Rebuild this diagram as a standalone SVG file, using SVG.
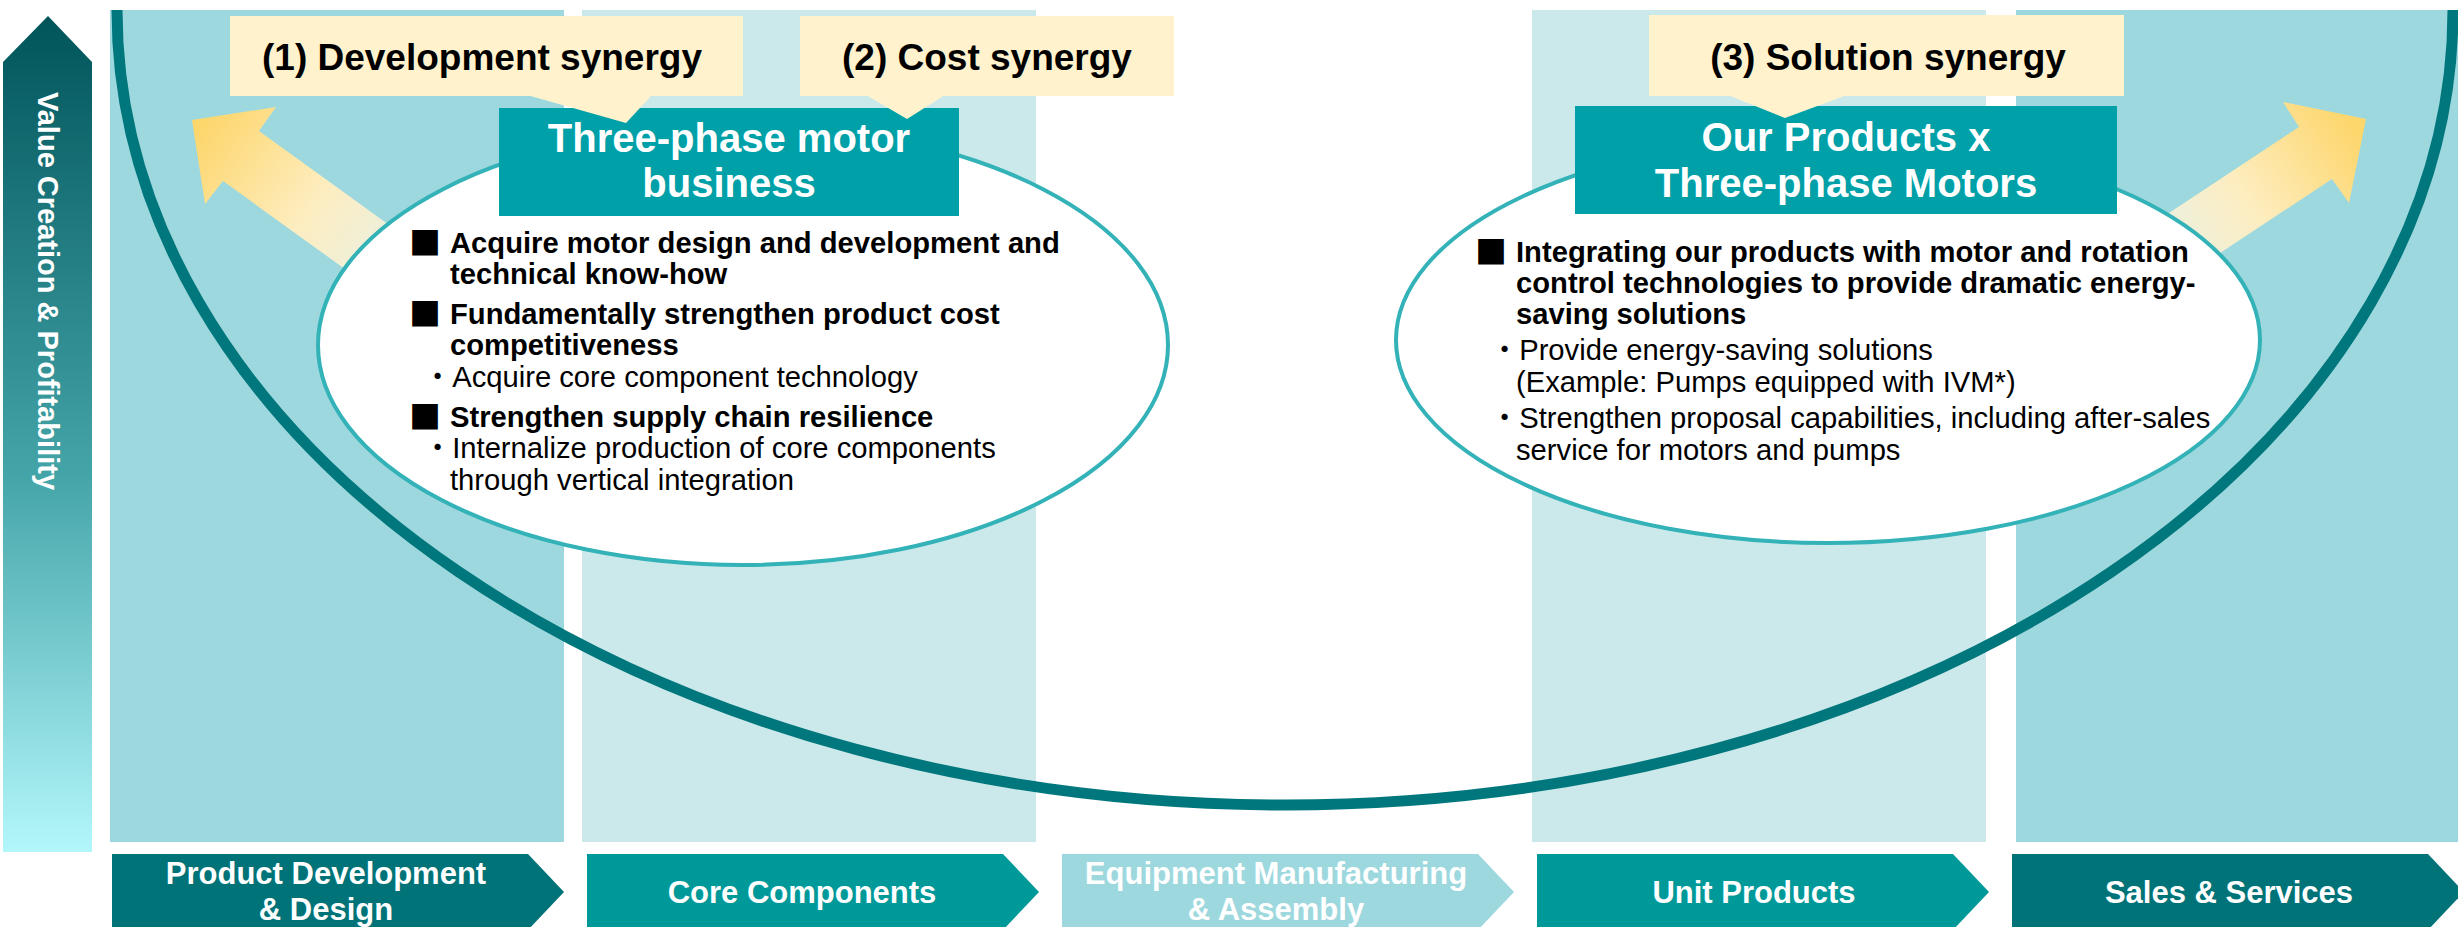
<svg xmlns="http://www.w3.org/2000/svg" width="2458" height="927" viewBox="0 0 2458 927">
  <style>
    .col-dark { fill: #9dd8de; }
    .col-light { fill: #cbe9eb; }
    .callout { fill: #fff2cc; }
    .title-box { fill: #00a0a8; }
    .bubble { fill: #ffffff; stroke: #33b2b8; stroke-width: 4; }
    .callout-text { font-family: "Liberation Sans", Arial, sans-serif; font-weight: bold; font-size: 37px; fill: #000; text-anchor: middle; }
    .title-text { font-family: "Liberation Sans", Arial, sans-serif; font-weight: bold; font-size: 40px; fill: #fff; text-anchor: middle; }
    .b { font-family: "Liberation Sans", Arial, "Noto Sans CJK JP", sans-serif; font-weight: bold; font-size: 29.2px; fill: #000; }
    .r { font-family: "Liberation Sans", Arial, "Noto Sans CJK JP", sans-serif; font-size: 29.2px; fill: #000; }
    .sq { font-family: "Noto Sans CJK JP", sans-serif; font-size: 32px; fill: #000; }
    .chev-text { font-family: "Liberation Sans", Arial, sans-serif; font-weight: bold; font-size: 31px; fill: #fff; text-anchor: middle; }
    .axis-text { font-family: "Liberation Sans", Arial, sans-serif; font-weight: bold; font-size: 29px; fill: #fff; }
  </style>
  <defs>
    <linearGradient id="axisGrad" x1="0" y1="0" x2="0" y2="1">
      <stop offset="0" stop-color="#00545a"/>
      <stop offset="0.55" stop-color="#44a5a9"/>
      <stop offset="1" stop-color="#b3f7fb"/>
    </linearGradient>
    <linearGradient id="arrowGradL" gradientUnits="userSpaceOnUse" x1="200" y1="128" x2="385" y2="262">
      <stop offset="0" stop-color="#fdd66c"/>
      <stop offset="0.6" stop-color="#fdedc0"/>
      <stop offset="1" stop-color="#ebf0e0"/>
    </linearGradient>
    <linearGradient id="arrowGradR" gradientUnits="userSpaceOnUse" x1="2355" y1="128" x2="2175" y2="250">
      <stop offset="0" stop-color="#fdd66c"/>
      <stop offset="0.6" stop-color="#fdedc0"/>
      <stop offset="1" stop-color="#ebf0e0"/>
    </linearGradient>
  </defs>

  <rect width="2458" height="927" fill="#ffffff"/>

  <!-- value-chain background columns -->
  <g id="columns">
    <rect class="col-dark" x="110" y="10" width="454" height="832"/>
    <rect class="col-light" x="582" y="10" width="454" height="832"/>
    <rect class="col-light" x="1532" y="10" width="454" height="832"/>
    <rect class="col-dark" x="2016" y="10" width="442" height="832"/>
  </g>

  <!-- vertical axis arrow -->
  <g id="axis">
    <polygon points="3,62 48,16 92,62 92,852 3,852" fill="url(#axisGrad)"/>
    <text class="axis-text" transform="translate(38,92) rotate(90)">Value Creation &amp; Profitability</text>
  </g>

  <g id="connectors">
    <!-- smile curve across the value chain -->
    <path d="M117,10 A1168,795 0 0 0 2453,10" fill="none" stroke="#00777c" stroke-width="11"/>
    <!-- synergy arrows -->
    <polygon points="192,120 276,107 259,131 421,248 385,298 223,181 205,204" fill="url(#arrowGradL)"/>
    <polygon points="2366,119 2283,102 2299,127 2107,254 2140,306 2332,179 2349,203" fill="url(#arrowGradR)"/>
  </g>

  <g id="bubble-motor">
    <ellipse class="bubble" cx="743" cy="345" rx="425" ry="220"/>
    <text class="sq" x="409" y="255">■</text>
    <text class="b" x="450" y="253">Acquire motor design and development and</text>
    <text class="b" x="450" y="284">technical know-how</text>
    <text class="sq" x="409" y="326">■</text>
    <text class="b" x="450" y="324">Fundamentally strengthen product cost</text>
    <text class="b" x="450" y="355">competitiveness</text>
    <text class="r" x="423" y="387">・Acquire core component technology</text>
    <text class="sq" x="409" y="429">■</text>
    <text class="b" x="450" y="427">Strengthen supply chain resilience</text>
    <text class="r" x="423" y="458">・Internalize production of core components</text>
    <text class="r" x="450" y="490">through vertical integration</text>
  </g>

  <g id="bubble-solution">
    <ellipse class="bubble" cx="1828" cy="340" rx="432" ry="203"/>
    <text class="sq" x="1475" y="264">■</text>
    <text class="b" x="1516" y="262">Integrating our products with motor and rotation</text>
    <text class="b" x="1516" y="293">control technologies to provide dramatic energy-</text>
    <text class="b" x="1516" y="324">saving solutions</text>
    <text class="r" x="1490" y="360">・Provide energy-saving solutions</text>
    <text class="r" x="1516" y="392">(Example: Pumps equipped with IVM*)</text>
    <text class="r" x="1490" y="428">・Strengthen proposal capabilities, including after-sales</text>
    <text class="r" x="1516" y="460">service for motors and pumps</text>
  </g>

  <g id="title-motor">
    <rect class="title-box" x="499" y="108" width="460" height="108"/>
    <text class="title-text" x="729" y="152">Three-phase motor</text>
    <text class="title-text" x="729" y="197">business</text>
  </g>

  <g id="title-products">
    <rect class="title-box" x="1575" y="106" width="542" height="108"/>
    <text class="title-text" x="1846" y="151">Our Products x</text>
    <text class="title-text" x="1846" y="197">Three-phase Motors</text>
  </g>

  <g id="callout-development">
    <rect class="callout" x="230" y="16" width="513" height="80"/>
    <polygon class="callout" points="527,95 652,95 626,123"/>
    <text class="callout-text" x="482" y="70">(1) Development synergy</text>
  </g>

  <g id="callout-cost">
    <rect class="callout" x="800" y="16" width="374" height="80"/>
    <polygon class="callout" points="866,95 945,95 907,119"/>
    <text class="callout-text" x="987" y="70">(2) Cost synergy</text>
  </g>

  <g id="callout-solution">
    <rect class="callout" x="1649" y="15" width="475" height="81"/>
    <polygon class="callout" points="1728,95 1847,95 1785,118"/>
    <text class="callout-text" x="1888" y="70">(3) Solution synergy</text>
  </g>

  <!-- value chain stages -->
  <g id="stage-development">
    <polygon points="112,854 528,854 564,892 528,930 112,930" fill="#007378"/>
    <text class="chev-text" x="326" y="884">Product Development</text>
    <text class="chev-text" x="326" y="920">&amp; Design</text>
  </g>
  <g id="stage-components">
    <polygon points="587,854 1003,854 1039,892 1003,930 587,930" fill="#00999a"/>
    <text class="chev-text" x="802" y="903">Core Components</text>
  </g>
  <g id="stage-manufacturing">
    <polygon points="1062,854 1478,854 1514,892 1478,930 1062,930" fill="#9dd8de"/>
    <text class="chev-text" x="1276" y="884">Equipment Manufacturing</text>
    <text class="chev-text" x="1276" y="920">&amp; Assembly</text>
  </g>
  <g id="stage-units">
    <polygon points="1537,854 1953,854 1989,892 1953,930 1537,930" fill="#00999a"/>
    <text class="chev-text" x="1754" y="903">Unit Products</text>
  </g>
  <g id="stage-sales">
    <polygon points="2012,854 2428,854 2464,892 2428,930 2012,930" fill="#007378"/>
    <text class="chev-text" x="2229" y="903">Sales &amp; Services</text>
  </g>
</svg>
